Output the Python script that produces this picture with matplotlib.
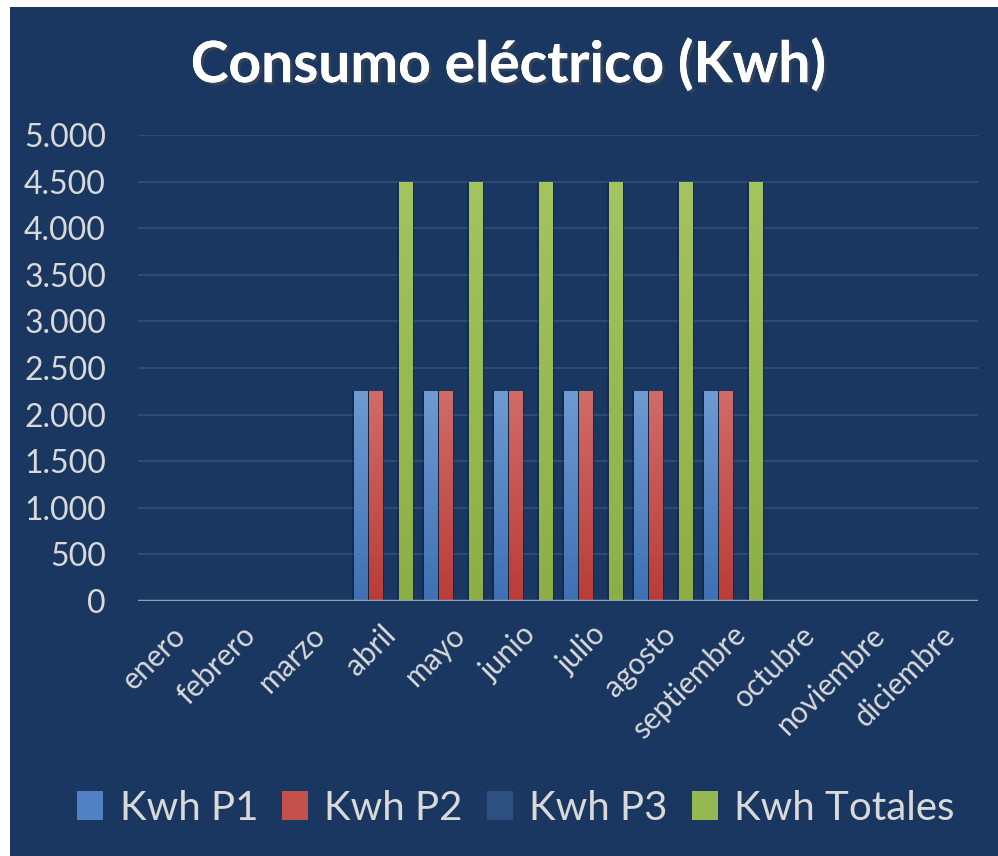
import matplotlib

matplotlib.use("Agg")
import matplotlib.pyplot as plt
import matplotlib.patheffects as pe
import matplotlib.transforms as mtransforms
from matplotlib.patches import Rectangle
from matplotlib.ticker import FuncFormatter
import numpy as np

meses = ["enero", "febrero", "marzo", "abril", "mayo", "junio", "julio",
         "agosto", "septiembre", "octubre", "noviembre", "diciembre"]
kwh_p1 = [0, 0, 0, 2250, 2250, 2250, 2250, 2250, 2250, 0, 0, 0]
kwh_p2 = [0, 0, 0, 2250, 2250, 2250, 2250, 2250, 2250, 0, 0, 0]
kwh_p3 = [0, 0, 0, 0, 0, 0, 0, 0, 0, 0, 0, 0]
kwh_totales = [0, 0, 0, 4500, 4500, 4500, 4500, 4500, 4500, 0, 0, 0]

series = [("Kwh P1", kwh_p1, "#4F81C4", "#6F9AD2", "#3E71B4"),
          ("Kwh P2", kwh_p2, "#C4504C", "#D06C68", "#B93C38"),
          ("Kwh P3", kwh_p3, "#2E5080", "#4A6A94", "#22467A"),
          ("Kwh Totales", kwh_totales, "#96B852", "#A3C45F", "#8CAF45")]

BG = "#193760"
TXT = "#D9D9D9"
plt.rcParams["font.family"] = ["Lato", "DejaVu Sans"]

fig = plt.figure(figsize=(9.98, 8.56), dpi=100)
fig.patch.set_facecolor("white")
fig.patches.append(Rectangle((10 / 998, 0), 988 / 998, 849 / 856,
                             transform=fig.transFigure, facecolor=BG,
                             edgecolor="none", zorder=-10))

ax = fig.add_axes([138 / 998, 255 / 856, 840 / 998, 466 / 856])
ax.set_facecolor(BG)
ax.patch.set_alpha(0)

x = np.arange(len(meses))
slot = 0.215
width = 0.19
grad = np.linspace(1, 0, 256).reshape(-1, 1)

for i, (name, vals, color, top, bottom) in enumerate(series):
    offs = (i - 1.5) * slot
    # sombra
    ax.bar(x + offs, vals, width + 0.06, color="black", alpha=0.2, zorder=2,
           linewidth=0)
    bars = ax.bar(x + offs, vals, width, color=color, label=name, zorder=3,
                  linewidth=0)
    cmap = matplotlib.colors.LinearSegmentedColormap.from_list(name, [bottom, top])
    for b in bars:
        if b.get_height() <= 0:
            continue
        im = ax.imshow(grad, cmap=cmap, aspect="auto", zorder=4,
                       extent=[b.get_x(), b.get_x() + b.get_width(), 0, b.get_height()])
        im.set_clip_path(b)

ax.set_xlim(-0.5, len(meses) - 0.5)
ax.set_ylim(0, 5000)
ax.set_yticks(np.arange(0, 5001, 500))
ax.yaxis.set_major_formatter(FuncFormatter(lambda v, p: f"{int(v):,}".replace(",", ".")))
ax.grid(axis="y", color="#2D4B73", linewidth=1.5, zorder=1)
ax.axhline(0, color="#8FA0B6", linewidth=2.5, zorder=5)
for s in ax.spines.values():
    s.set_visible(False)

ax.set_xticks(x)
ax.set_xticklabels(meses, rotation=45, ha="right", va="top", rotation_mode="anchor")
ax.tick_params(axis="both", length=0, colors=TXT)
ax.tick_params(axis="y", labelsize=23, pad=23)
ax.tick_params(axis="x", labelsize=21.5, pad=14)
shift = mtransforms.ScaledTranslation(-2 / 100, 0, fig.dpi_scale_trans)
for lab in ax.get_xticklabels():
    lab.set_transform(lab.get_transform() + shift)

fig.text(509 / 998, 791 / 856, "Consumo eléctrico (Kwh)", ha="center", va="center",
         fontsize=41, fontweight="bold", color="white",
         path_effects=[pe.withSimplePatchShadow(offset=(2, -2), alpha=0.5), pe.Normal()])

handles, labels = ax.get_legend_handles_labels()
fig.legend(handles, labels, loc="center", bbox_to_anchor=(516 / 998, 48 / 856),
           ncol=4, frameon=False, fontsize=29, labelcolor=TXT,
           handlelength=0.65, handleheight=0.7, handletextpad=0.4,
           columnspacing=0.6)

fig.savefig("out.png", dpi=100, facecolor=fig.get_facecolor())
plt.close(fig)
